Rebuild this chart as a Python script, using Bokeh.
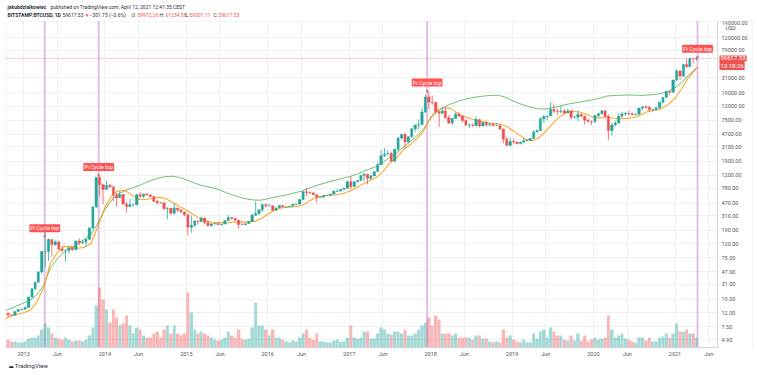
import pandas as pd
from bokeh.plotting import figure
from bokeh.models import (Range1d, LinearScale, FixedTicker, NumeralTickFormatter,
                          Span, Label, ColumnDataSource, BoxAnnotation, Title)
from bokeh.embed import file_html
from bokeh.resources import INLINE

# ---------------- data (BITSTAMP:BTCUSD, half-month candles) ----------------
first_open = 11.8
low_px = [
    10.3, 10.5, 10.9, 12.3, 13.0,
    13.2, 14.0, 19.5, 25.5, 33, 45, 55, 68, 79, 113, 98, 90, 66, 87, 96, 99, 115, 120, 110, 140, 200, 400, 600, 455,
    740, 780, 500, 420, 560, 440, 340, 410, 420, 445, 560, 560, 610, 580, 490, 450, 460, 375, 275, 320, 320, 350, 340, 300,
    160, 175, 210, 230, 250, 235, 215, 215, 230, 227, 220, 232, 255, 270, 260, 200, 225, 225, 235, 252, 305, 315, 350, 410,
    420, 360, 365, 400, 405, 405, 412, 422, 440, 440, 525, 590, 640, 620, 480, 565, 570, 595, 605, 630, 680, 700, 740, 770,
    750, 815, 940, 990, 990, 890, 1040, 1165, 1340, 1690, 2200, 2370, 1880, 1830, 2680, 3950, 2970, 3500, 4200, 5100, 5500, 6500, 9700, 10900,
    12700, 9400, 6000, 9300, 8000, 6600, 6400, 7900, 8400, 7000, 6300, 5800, 6100, 6200, 5900, 6150, 6100, 6100, 6150, 6250, 5500, 3500, 3200, 3200,
    3450, 3350, 3350, 3580, 3700, 3830, 4080, 5000, 5280, 6900, 7500, 8650, 9600, 9100, 9500, 9400, 9550, 7700, 7900, 7300, 8500, 6500, 7000, 6430,
    6850, 8250, 9150, 8500, 3850, 4500, 6150, 6800, 8100, 8700, 8900, 8850, 8950, 9000, 10600, 11150, 9850, 10150, 10400, 11200, 13200, 15900, 17600, 19100,
    27700, 28800, 32300, 43000, 44950, 50300, 55500,
]
high_px = [
    12.0, 11.2, 12.6, 13.6, 13.8,
    14.9, 20.5, 27.0, 33.4, 48, 95, 215, 145, 140, 135, 130, 112, 100, 107, 108, 135, 145, 135, 145, 210, 420, 1140, 1163, 900,
    1000, 900, 830, 660, 700, 640, 490, 540, 460, 630, 680, 645, 660, 630, 600, 520, 490, 480, 410, 400, 460, 405, 385, 355,
    320, 310, 265, 262, 300, 290, 260, 236, 245, 245, 235, 265, 315, 295, 285, 268, 245, 240, 255, 335, 500, 380, 465, 465,
    460, 435, 410, 445, 440, 420, 430, 465, 460, 540, 700, 780, 700, 680, 630, 590, 615, 612, 640, 720, 750, 750, 785, 975,
    1150, 970, 1030, 1200, 1300, 1250, 1230, 1355, 1840, 2790, 2980, 2800, 2650, 2900, 4300, 4750, 4980, 4400, 5850, 6470, 7800, 11400, 17800, 19666,
    17200, 14000, 10200, 11800, 11700, 9100, 8200, 9800, 9900, 8750, 7780, 6800, 6800, 8500, 7800, 7100, 7400, 6800, 6800, 6800, 6600, 5650, 4300, 4250,
    4100, 3700, 3700, 4200, 3950, 4150, 5400, 5600, 8300, 9000, 8900, 13900, 13200, 11100, 12300, 10950, 10950, 10400, 8800, 10500, 9500, 8700, 7900, 7500,
    8900, 9550, 10500, 10400, 9180, 6900, 7450, 9450, 10050, 9950, 10400, 9800, 9450, 11450, 12100, 12450, 12100, 11150, 11700, 14100, 16500, 19850, 19900, 29300,
    41950, 39800, 49700, 58350, 61780, 60100, 61500,
]
close_px = [
    11.2, 11.0, 12.5, 13.4, 13.5,
    14.3, 20.4, 26.8, 33.2, 47, 93, 93, 139, 117, 129, 101, 97, 97, 106, 99, 132, 125, 128, 140, 205, 415, 1110, 870, 740,
    850, 810, 620, 560, 630, 455, 420, 445, 445, 625, 590, 640, 620, 585, 500, 478, 475, 390, 395, 335, 400, 375, 350, 318,
    210, 225, 258, 254, 285, 245, 220, 235, 237, 230, 233, 262, 290, 283, 265, 230, 229, 236, 254, 313, 332, 377, 445, 430,
    430, 370, 400, 435, 415, 415, 425, 450, 455, 530, 690, 670, 660, 625, 570, 575, 608, 608, 638, 700, 705, 742, 775, 965,
    820, 965, 1000, 1190, 1240, 1075, 1170, 1350, 1700, 2300, 2430, 2480, 1920, 2850, 4150, 4700, 3650, 4340, 5650, 6450, 6550, 9900, 16400, 13800,
    13600, 10100, 9500, 10300, 8200, 6900, 8000, 9200, 8700, 7500, 6400, 6400, 6250, 7750, 6200, 7000, 6500, 6600, 6300, 6300, 5600, 4000, 3250, 3700,
    3650, 3450, 3600, 3800, 3850, 4100, 5100, 5300, 7950, 8550, 8700, 10800, 10200, 10080, 10300, 9600, 10350, 8300, 8350, 9150, 8650, 7550, 7250, 7200,
    8800, 9350, 10350, 8550, 5350, 6420, 6850, 8650, 9300, 9450, 9350, 9150, 9250, 11350, 11800, 11650, 10680, 10780, 11430, 13800, 16100, 19700, 19250, 28950,
    39200, 33100, 48800, 45200, 59000, 58800, 59617.53,
]
volume_k = [
    8, 6, 6, 5, 5,
    6, 9, 10, 10, 12, 18, 24, 20, 14, 10, 9, 8, 10, 8, 6, 7, 7, 6, 8, 12, 20, 42, 60, 48,
    38, 25, 38, 30, 22, 24, 32, 22, 14, 20, 18, 12, 10, 10, 14, 16, 10, 18, 22, 14, 22, 14, 12, 14,
    55, 35, 18, 14, 16, 14, 12, 10, 8, 7, 8, 10, 16, 12, 10, 18, 9, 8, 9, 20, 45, 22, 22, 18,
    12, 18, 10, 10, 8, 6, 5, 7, 6, 10, 14, 18, 10, 8, 14, 6, 6, 5, 5, 7, 8, 6, 6, 10,
    22, 10, 9, 10, 16, 16, 9, 9, 14, 20, 18, 14, 13, 16, 16, 14, 18, 12, 12, 14, 18, 22, 25, 30,
    22, 32, 28, 14, 14, 14, 12, 14, 10, 10, 10, 10, 8, 12, 12, 9, 9, 6, 5, 6, 5, 18, 10, 12,
    8, 6, 5, 8, 5, 5, 14, 9, 16, 18, 10, 20, 16, 12, 12, 8, 7, 12, 7, 14, 7, 12, 6, 8,
    10, 8, 9, 10, 32, 18, 10, 12, 14, 9, 8, 6, 5, 10, 10, 7, 10, 6, 6, 10, 11, 14, 10, 14,
    24, 16, 16, 18, 14, 14, 10,
]

# moving averages, monthly from 2012-10-01, plus the last bar (2021-04-12)
ma111 = [
    9.3, 10.7, 11.3,
    12.0, 13.1, 17.0, 28, 62.5, 89.6, 109.6, 110.7, 103.8, 107, 124, 221,
    409, 604, 713, 718, 620, 537, 530, 550, 570, 550, 480, 419,
    373, 322, 287, 262, 244, 245, 242, 248, 252, 251, 255, 277,
    325, 370, 399, 410, 416, 430, 495, 560, 597, 619, 618, 643,
    701, 781, 888, 992, 1096, 1353, 1779, 2146, 2810, 3341, 4084, 5294,
    8319, 10642, 11510, 11219, 9466, 8570, 7904, 7489, 7112, 6782, 6689, 6262,
    5449, 4664, 4003, 3768, 4179, 5166, 6676, 8405, 9711, 10204, 9823, 9193,
    8348, 8099, 8455, 8040, 7907, 8029, 8281, 9063, 10095, 10459, 11107, 12823,
    15604, 22010, 30901, 40952, 44600,
]
ma350x2 = [
    12.3, 13.75, 15.1,
    16.6, 18.3, 21.9, 30.1, 53.6, 73.2, 90.7, 104.3, 121, 141, 167, 243,
    380, 524, 632, 718, 775, 839, 928, 1019, 1093, 1146, 1156, 1111,
    1027, 936, 868, 823, 783, 729, 663, 611, 568, 538, 521, 520,
    543, 574, 600, 628, 663, 702, 768, 837, 896, 958, 1016, 1075,
    1142, 1230, 1343, 1466, 1600, 1835, 2181, 2508, 3080, 3684, 4487, 5642,
    8102, 10191, 11601, 12962, 14064, 15130, 15849, 16529, 17000, 17330, 17357, 16348,
    14557, 13270, 12330, 11548, 11035, 10991, 11409, 12070, 12774, 13339, 13765, 14435,
    15061, 15878, 16900, 17235, 17400, 17574, 17487, 17296, 17548, 17826, 18435, 19957,
    22330, 26757, 33348, 41722, 44600,
]

pi_cycle_dates = ["2013-04-06", "2013-12-04", "2017-12-16", "2021-04-12"]
pi_cycle_highs = [150, 1163, 19666, 61234.58]
pi_cycle_text = "Pi Cycle top"

last_price = 59617.53
last_price_text = "59617.53"
countdown_text = "13:18:26"

y_ticks = [4.9, 7.5, 12, 19, 31, 47, 75, 120, 190, 310, 470, 780, 1200, 1900,
           3100, 4700, 7500, 12000, 19000, 31000, 79000, 120000]
x_tick_dates = ["2013-01-01", "2013-06-01", "2014-01-01", "2014-06-01", "2015-01-01", "2015-06-01",
                "2016-01-01", "2016-06-01", "2017-01-01", "2017-06-01", "2018-01-01", "2018-06-01",
                "2019-01-01", "2019-06-01", "2020-01-01", "2020-06-01", "2021-01-01", "2021-06-01"]
x_tick_labels = ["2013", "Jun", "2014", "Jun", "2015", "Jun", "2016", "Jun", "2017", "Jun",
                 "2018", "Jun", "2019", "Jun", "2020", "Jun", "2021", "Jun"]

# ---------------- build ----------------
def ms(d):
    return pd.Timestamp(d).value / 1e6

starts = list(pd.date_range("2012-10-15", "2021-04-01", freq="SMS"))
ends = starts[1:] + [pd.Timestamp("2021-04-13")]
assert len(starts) == len(close_px) == len(high_px) == len(low_px) == len(volume_k)

opens = [first_open] + close_px[:-1]
UP, DOWN = "#26a69a", "#ef5350"
colors = [UP if c >= o else DOWN for o, c in zip(opens, close_px)]
src = ColumnDataSource(dict(
    x=[(ms(s) + ms(e)) / 2 for s, e in zip(starts, ends)],
    w=[(ms(e) - ms(s)) * 0.7 for s, e in zip(starts, ends)],
    vw=[(ms(e) - ms(s)) * 0.92 for s, e in zip(starts, ends)],
    low=low_px, high=high_px,
    top=[max(o, c) for o, c in zip(opens, close_px)],
    bot=[min(o, c) for o, c in zip(opens, close_px)],
    vol=volume_k, color=colors,
))

ma_x = [ms(d) for d in pd.date_range("2012-10-01", "2021-04-01", freq="MS")] + [ms("2021-04-12")]

# frame geometry (canvas pixels): the frame spans the header band and the price-scale band,
# both of which are masked, so that texts placed there are not clipped away.
FL, FT, FR, FB = 5, 0, 753, 347
FONT = "Roboto"
X_START, X_AXIS_END, X_END = "2012-10-12", "2021-07-11", "2021-12-19"
Y_BOTTOM, Y_PANEL_TOP, Y_TOP = 3.75, 205250, 414600

p = figure(width=757, height=378, x_axis_type="datetime", y_axis_type="log",
           y_axis_location="right", title=None,
           x_range=Range1d(ms(X_START), ms(X_END)),
           y_range=Range1d(Y_BOTTOM, Y_TOP),
           output_backend="svg", toolbar_location=None,
           min_border_left=FL, min_border_right=757 - FR, min_border_top=FT,
           min_border_bottom=378 - FB)
p.background_fill_color = "white"
p.border_fill_color = "white"
p.outline_line_color = None

p.extra_y_ranges = {"vol": Range1d(0, FB - FT)}
p.extra_y_scales = {"vol": LinearScale()}

# axes
yax = p.yaxis[0]
yt = FixedTicker(ticks=y_ticks)
yax.ticker = yt
yax.formatter = NumeralTickFormatter(format="0.00")
yax.bounds = (Y_BOTTOM, Y_PANEL_TOP)
xax = p.xaxis[0]
xt_vals = [ms(d) for d in x_tick_dates]
xt = FixedTicker(ticks=xt_vals)
xax.ticker = xt
xax.major_label_overrides = {v: l for v, l in zip(xt_vals, x_tick_labels)}
xax.bounds = (ms(X_START), ms(X_AXIS_END))
for ax in (xax, yax):
    ax.major_label_text_font = FONT
    ax.major_label_text_font_size = "5.5px"
    ax.major_label_text_color = "#555555"
    ax.major_tick_line_color = None
    ax.minor_tick_line_color = None
    ax.major_tick_out = 0
    ax.major_tick_in = 0
    ax.minor_tick_out = 0
    ax.minor_tick_in = 0
xax.axis_line_color = "#d0d3da"
xax.major_label_standoff = 3
yax.axis_line_color = None
yax.major_label_standoff = 721 - FR   # labels sit inside the price-scale band

p.xgrid.ticker = xt
p.ygrid.ticker = yt
for g in (p.xgrid, p.ygrid):
    g.grid_line_color = "#eef0f4"
    g.grid_line_width = 1

# volume
p.vbar(x="x", width="vw", top="vol", bottom=0, y_range_name="vol", source=src,
       fill_color="color", fill_alpha=0.42, line_color=None)

# Pi cycle vertical lines, price line, price-scale separator
for d in pi_cycle_dates:
    p.add_layout(Span(location=ms(d), dimension="height", line_color="#e1bee7",
                      line_width=2, level="underlay"))
p.add_layout(Span(location=last_price, dimension="width", line_color="#ef5350",
                  line_alpha=0.55, line_dash="2 2", line_width=1, level="underlay"))
p.add_layout(Span(location=ms(X_AXIS_END), dimension="height", line_color="#d0d3da",
                  line_width=1, level="underlay"))

# masks for the header band and price-scale band
def sx(cx):
    return cx - FL

def sy(cy):
    return FB - cy

SCREEN = dict(left_units="screen", right_units="screen", top_units="screen", bottom_units="screen")
p.add_layout(BoxAnnotation(left=-10, right=800, bottom=sy(20.5), top=sy(-10), fill_color="white",
                           fill_alpha=1, line_color=None, level="underlay", **SCREEN))
p.add_layout(BoxAnnotation(left=sx(718), right=800, bottom=-10, top=sy(20.5), fill_color="white",
                           fill_alpha=1, line_color=None, level="underlay", **SCREEN))

# moving averages
p.line(ma_x, ma350x2, line_color="#4caf50", line_alpha=0.8, line_width=1)
p.line(ma_x, ma111, line_color="#ff9800", line_alpha=0.85, line_width=1.1)

# candles
p.segment(x0="x", y0="low", x1="x", y1="high", line_color="color", line_width=0.8, source=src)
p.vbar(x="x", width="w", top="top", bottom="bot", fill_color="color", line_color="color",
       line_width=0.4, source=src)

# Pi cycle labels
for d, v in zip(pi_cycle_dates, pi_cycle_highs):
    p.add_layout(Label(x=ms(d), y=v, text="\u25BC", text_color="#ff5252", text_font_size="5px",
                       text_align="center", text_baseline="alphabetic", y_offset=1))
    p.add_layout(Label(x=ms(d), y=v, text=pi_cycle_text, text_color="white", text_font=FONT,
                       text_font_size="5.5px", text_align="center", text_baseline="bottom",
                       y_offset=5, background_fill_color="#ff5252", padding=1, border_radius=1))

def txt(cx, cy, s, color="#2a2e39", size="5px", bold=False, align="left"):
    p.add_layout(Label(x=sx(cx), y=sy(cy), x_units="screen", y_units="screen", text=s,
                       text_color=color, text_font=FONT, text_font_size=size,
                       text_font_style="bold" if bold else "normal",
                       text_align=align, text_baseline="middle"))

# header
txt(7, 6, "jakubdzialkowiec", bold=True)
txt(50, 6, "published on TradingView.com, April 12, 2021 12:41:35 CEST")
txt(7, 14.5, "BITSTAMP:BTCUSD, 1D", bold=True)
txt(62, 14.5, last_price_text)
txt(84, 14.5, "\u25BC", color="#ef5350")
txt(89, 14.5, "\u2212301.73 (\u22120.6%)")
txt(131, 14.5, "O:")
txt(137, 14.5, "59972.26", color="#ef5350")
txt(159, 14.5, "H:")
txt(165, 14.5, "61234.58", color="#ef5350")
txt(185, 14.5, "L:")
txt(189, 14.5, "59301.11", color="#ef5350")
txt(213, 14.5, "C:")
txt(218, 14.5, "59617.53", color="#ef5350")

# price-scale extras
txt(721, 22, "190000.00", color="#555555", size="5.5px")
txt(725, 27.5, "USD", color="#555555", size="5.5px")
p.add_layout(Label(x=sx(719), y=last_price, x_units="screen", text=last_price_text,
                   text_color="white", text_font=FONT, text_font_size="6px",
                   text_baseline="middle", background_fill_color="#ef5350", padding=1))
p.add_layout(Label(x=sx(719), y=last_price, x_units="screen", text=countdown_text, y_offset=-7,
                   text_color="white", text_font=FONT, text_font_size="6px",
                   text_baseline="middle", background_fill_color="#ef5350", padding=1))

# panel border
p.add_layout(BoxAnnotation(left=sx(6), right=sx(752), top=sy(21), bottom=-20, fill_alpha=0,
                           line_color="#d6d9e0", line_width=1, level="overlay", **SCREEN))

# footer
p.add_layout(Title(text="\u2601 TradingView", align="left", offset=2, standoff=4,
                   vertical_align="top", text_font=FONT, text_font_size="6px",
                   text_font_style="normal", text_color="#2a2e39"), "below")

open("out.html", "w").write(file_html(p, INLINE))
